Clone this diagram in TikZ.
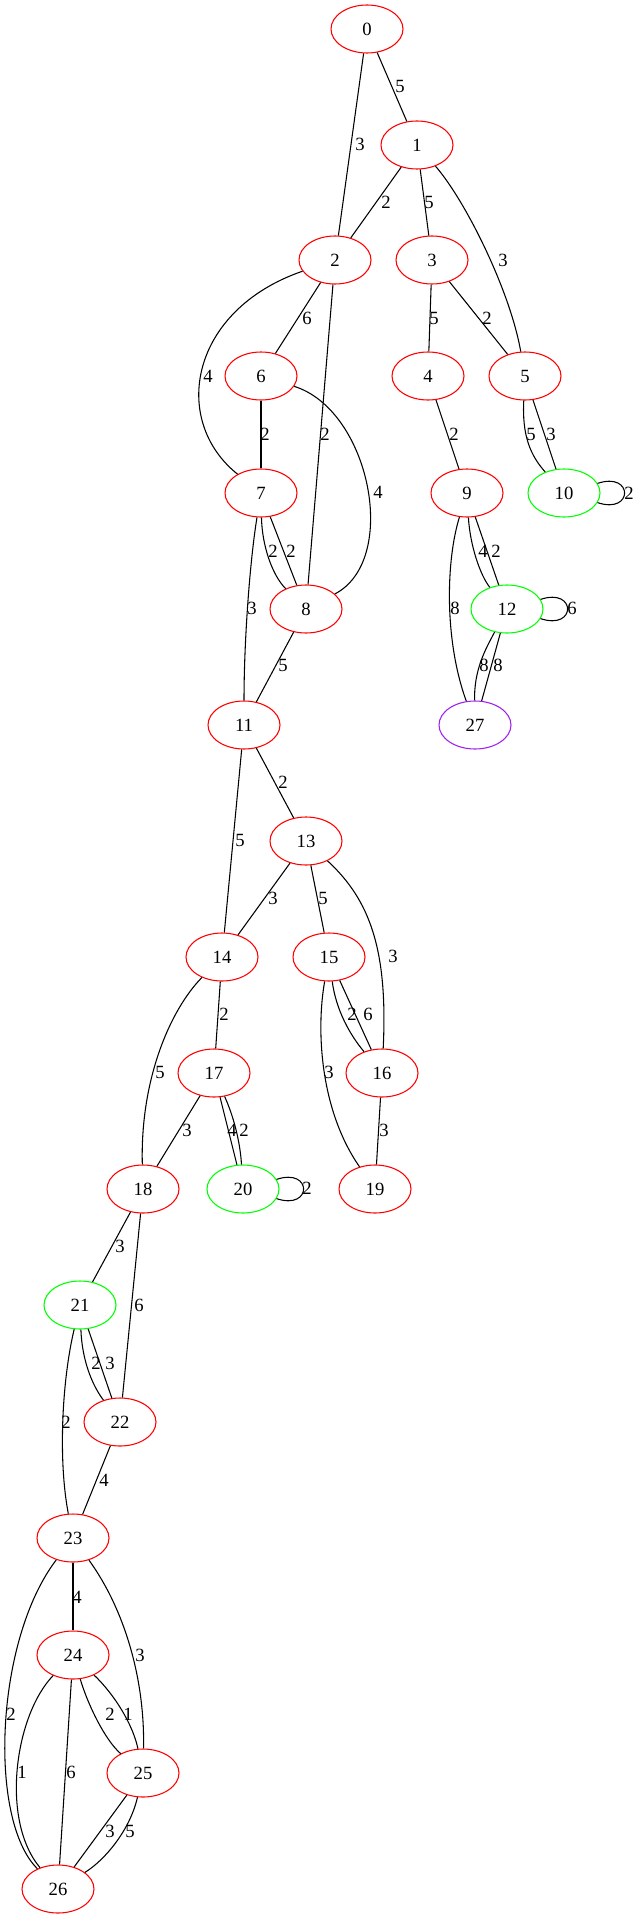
\documentclass[tikz,border=0pt]{standalone}
\usepackage{fontspec}
\setmainfont{Liberation Serif}
\usetikzlibrary{shapes.geometric}
\definecolor{vgreen}{RGB}{0,255,0}
\definecolor{vpurple}{RGB}{160,32,240}

\begin{document}
\begin{tikzpicture}[x=0.75pt, y=-0.75pt,
		vert/.style={ellipse, draw=red, line width=0.8pt, minimum width=54pt, minimum height=36pt, inner sep=0pt, font=\fontsize{14}{16}\selectfont},
		elab/.style={inner sep=0pt, font=\fontsize{14}{16}\selectfont},
		link/.style={line width=0.8pt}]
		
		\useasboundingbox (0,0) rectangle (634,1915);
		
		\node[vert] (n0) at (367,29) {0};
		\node[vert] (n1) at (417,145) {1};
		\node[vert] (n2) at (335,260) {2};
		\node[vert] (n3) at (432,260) {3};
		\node[vert] (n6) at (261,376) {6};
		\node[vert] (n4) at (428,376) {4};
		\node[vert] (n5) at (525,376) {5};
		\node[vert] (n7) at (261,493) {7};
		\node[vert] (n9) at (467,493) {9};
		\node[vert, draw=vgreen] (n10) at (564,493) {10};
		\node[vert] (n8) at (306,609) {8};
		\node[vert, draw=vgreen] (n12) at (507,609) {12};
		\node[vert] (n11) at (244,725) {11};
		\node[vert, draw=vpurple] (n27) at (475,725) {27};
		\node[vert] (n13) at (306,841) {13};
		\node[vert] (n14) at (222,957) {14};
		\node[vert] (n15) at (329,957) {15};
		\node[vert] (n17) at (214,1073) {17};
		\node[vert] (n16) at (382,1073) {16};
		\node[vert] (n18) at (143,1189) {18};
		\node[vert, draw=vgreen] (n20) at (243,1189) {20};
		\node[vert] (n19) at (375,1189) {19};
		\node[vert, draw=vgreen] (n21) at (80,1305) {21};
		\node[vert] (n22) at (120,1422) {22};
		\node[vert] (n23) at (73,1538) {23};
		\node[vert] (n24) at (73,1655) {24};
		\node[vert] (n25) at (143,1773) {25};
		\node[vert] (n26) at (58,1889) {26};
		
		\draw[link] (n0) -- (n2) node[elab] at (360,144) {3};
		\draw[link] (n0) -- (n1) node[elab] at (400,86) {5};
		\draw[link] (n1) -- (n2) node[elab] at (386,202) {2};
		\draw[link] (n1) -- (n3) node[elab] at (429,202) {5};
		\draw[link] (n1) .. controls (465,200) and (510,290) .. (n5) node[elab] at (503,260) {3};
		
		\draw[link] (n2) .. controls (190,310) and (170,420) .. (n7) node[elab] at (208,376) {4};
		\draw[link] (n2) -- (n6) node[elab] at (307,318) {6};
		\draw[link] (n2) -- (n8) node[elab] at (325,434) {2};
		\draw[link] (n3) -- (n4) node[elab] at (434,318) {5};
		\draw[link] (n3) -- (n5) node[elab] at (487,318) {2};
		
		\draw[link] (n6) -- (n7) node[elab] at (265,434) {2};
		\draw[link] (n6) .. controls (370,410) and (400,560) .. (n8) node[elab] at (378,492) {4};
		\draw[link] (n5) .. controls (522,435) and (530,455) .. (n10) node[elab] at (531,434) {5};
		\draw[link] (n5) -- (n10) node[elab] at (551,434) {3};
		\draw[link] (n10.16) .. controls +(36,-12) and +(36,12) .. (n10.-16) node[elab] at (629,493) {2};
		\draw[link] (n4) -- (n9) node[elab] at (454,434) {2};
		
		\draw[link] (n7) .. controls (262,545) and (272,575) .. (n8) node[elab] at (273,551) {2};
		\draw[link] (n7) -- (n8) node[elab] at (291,551) {2};
		\draw[link] (n9) .. controls (470,545) and (480,575) .. (n12) node[elab] at (483,551) {4};
		\draw[link] (n9) -- (n12) node[elab] at (496,551) {2};
		\draw[link] (n9) .. controls (446,560) and (444,640) .. (n27) node[elab] at (455,608) {8};
		\draw[link] (n12.16) .. controls +(36,-12) and +(36,12) .. (n12.-16) node[elab] at (572,608) {6};
		
		\draw[link] (n7) .. controls (250,560) and (244,640) .. (n11) node[elab] at (252,608) {3};
		\draw[link] (n8) -- (n11) node[elab] at (283,665) {5};
		\draw[link] (n12) .. controls (485,650) and (474,670) .. (n27) node[elab] at (484,665) {8};
		\draw[link] (n12) -- (n27) node[elab] at (498,665) {8};
		
		\draw[link] (n11) -- (n13) node[elab] at (283,782) {2};
		\draw[link] (n11) -- (n14) node[elab] at (240,840) {5};
		\draw[link] (n13) -- (n14) node[elab] at (273,898) {3};
		\draw[link] (n13) -- (n15) node[elab] at (323,898) {5};
		\draw[link] (n13) .. controls (370,900) and (388,950) .. (n16) node[elab] at (393,956) {3};
		
		\draw[link] (n14) -- (n17) node[elab] at (224,1014) {2};
		\draw[link] (n14) .. controls (170,1010) and (140,1080) .. (n18) node[elab] at (160,1072) {5};
		\draw[link] (n15) .. controls (336,1010) and (350,1035) .. (n16) node[elab] at (352,1014) {2};
		\draw[link] (n15) -- (n16) node[elab] at (368,1014) {6};
		\draw[link] (n15) .. controls (316,1030) and (320,1110) .. (n19) node[elab] at (329,1072) {3};
		
		\draw[link] (n16) -- (n19) node[elab] at (384,1130) {3};
		\draw[link] (n17) -- (n18) node[elab] at (187,1130) {3};
		\draw[link] (n17) -- (n20) node[elab] at (232,1130) {4};
		\draw[link] (n17) .. controls (233,1115) and (240,1140) .. (n20) node[elab] at (244,1130) {2};
		\draw[link] (n20.16) .. controls +(36,-12) and +(36,12) .. (n20.-16) node[elab] at (307,1188) {2};
		
		\draw[link] (n18) -- (n21) node[elab] at (120,1246) {3};
		\draw[link] (n18) -- (n22) node[elab] at (139,1305) {6};
		\draw[link] (n21) .. controls (82,1360) and (92,1385) .. (n22) node[elab] at (96,1363) {2};
		\draw[link] (n21) -- (n22) node[elab] at (110,1363) {3};
		\draw[link] (n21) .. controls (62,1380) and (58,1460) .. (n23) node[elab] at (66,1422) {2};
		\draw[link] (n22) -- (n23) node[elab] at (104,1480) {4};
		
		\draw[link] (n23) -- (n24) node[elab] at (77,1597) {4};
		\draw[link] (n23) .. controls (125,1610) and (145,1680) .. (n25) node[elab] at (140,1655) {3};
		\draw[link] (n23) .. controls (-5,1640) and (-12,1820) .. (n26) node[elab] at (11,1714) {2};
		\draw[link] (n24) .. controls (88,1705) and (105,1740) .. (n25) node[elab] at (110,1714) {2};
		\draw[link] (n24) .. controls (115,1695) and (133,1725) .. (n25) node[elab] at (128,1714) {1};
		\draw[link] (n24) .. controls (15,1715) and (0,1820) .. (n26) node[elab] at (22,1772) {1};
		\draw[link] (n24) -- (n26) node[elab] at (71,1772) {6};
		\draw[link] (n25) -- (n26) node[elab] at (110,1831) {3};
		\draw[link] (n25) .. controls (130,1830) and (105,1860) .. (n26) node[elab] at (130,1831) {5};
		
	\end{tikzpicture}
\end{document}
